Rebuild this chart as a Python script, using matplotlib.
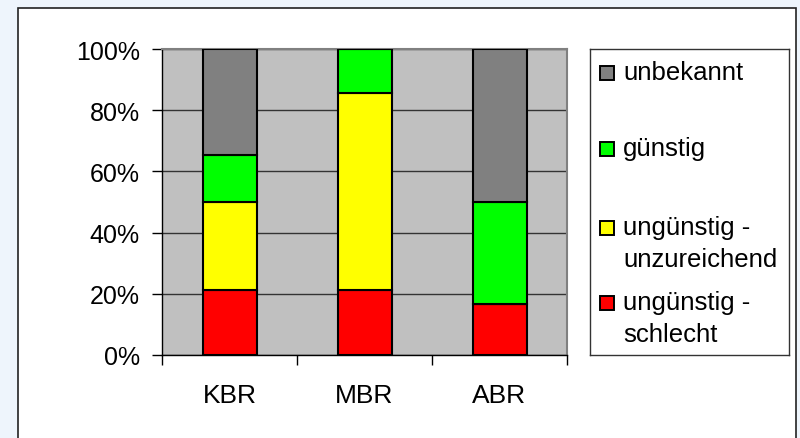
import matplotlib
matplotlib.use('Agg')
import matplotlib.pyplot as plt
from matplotlib.patches import Rectangle

plt.rcParams['font.family'] = ['Liberation Sans', 'DejaVu Sans']

# data (percent)
regions = ['KBR', 'MBR', 'ABR']
schlecht = [21.4, 21.4, 16.7]
unzureichend = [28.6, 64.3, 0.0]
guenstig = [15.4, 14.3, 33.3]
unbekannt = [34.6, 0.0, 50.0]

series = [
    ('ungünstig -\nschlecht', schlecht, '#FF0000'),
    ('ungünstig -\nunzureichend', unzureichend, '#FFFF00'),
    ('günstig', guenstig, '#00FF00'),
    ('unbekannt', unbekannt, '#808080'),
]

W, H = 800, 439
fig = plt.figure(figsize=(8, 4.39), dpi=100)
fig.patch.set_facecolor('#EEF5FC')

# white chart frame
fig.patches.append(Rectangle((18 / W, -0.01), (796 - 18) / W, 1 - 9 / H + 0.01,
                             transform=fig.transFigure, facecolor='white',
                             edgecolor='#222222', linewidth=1.2, zorder=-10))

ax = fig.add_axes([162 / W, 1 - 356 / H, (567 - 162) / W, (356 - 50) / H])
ax.set_facecolor('#C0C0C0')

x = list(range(len(regions)))
bottom = [0.0] * len(regions)
for label, vals, col in series:
    ax.bar(x, vals, 0.4, bottom=bottom, color=col, edgecolor='black',
           linewidth=1.5, zorder=3)
    bottom = [b + v for b, v in zip(bottom, vals)]

ax.set_xlim(-0.5, 2.5)
ax.set_ylim(0, 100)
ax.set_yticks([0, 20, 40, 60, 80, 100])
ax.set_yticklabels(['0%', '20%', '40%', '60%', '80%', '100%'])
ax.yaxis.grid(True, color='#333333', linewidth=1, zorder=1)
ax.set_axisbelow(True)

ax.set_xticks([-0.5, 0.5, 1.5, 2.5])
ax.set_xticklabels([])
ax.set_xticks(x, minor=True)
ax.set_xticklabels(regions, minor=True)
ax.tick_params(axis='x', which='minor', length=0, pad=20, labelsize=19)
ax.tick_params(axis='x', which='major', length=7, width=1, color='black')
ax.tick_params(axis='y', length=7, width=1, pad=9, labelsize=18, color='black')

for s in ['top', 'right']:
    ax.spines[s].set_color('#808080')
    ax.spines[s].set_linewidth(1.5)
for s in ['left', 'bottom']:
    ax.spines[s].set_color('black')
    ax.spines[s].set_linewidth(1)

# legend box
lax = fig.add_axes([590 / W, 1 - 356 / H, (789 - 590) / W, (356 - 50) / H])
lax.set_xlim(590, 789)
lax.set_ylim(356, 50)
lax.set_xticks([])
lax.set_yticks([])
for s in lax.spines.values():
    s.set_color('#333333')
    s.set_linewidth(1)

# first-line baselines of the legend entries (pixels from top)
legend_base = [80, 156, 235, 310]
for (label, vals, col), y in zip(series[::-1], legend_base):
    lax.add_patch(Rectangle((600, y - 13), 14, 14, facecolor=col,
                            edgecolor='black', linewidth=1.4))
    first, *rest = label.split('\n')
    lax.text(623, y, first, fontsize=18.5, va='baseline', ha='left')
    for i, line in enumerate(rest, 1):
        lax.text(623, y + 32.5 * i, line, fontsize=18.5, va='baseline', ha='left')

fig.savefig('out.png', dpi=100, facecolor=fig.get_facecolor())
